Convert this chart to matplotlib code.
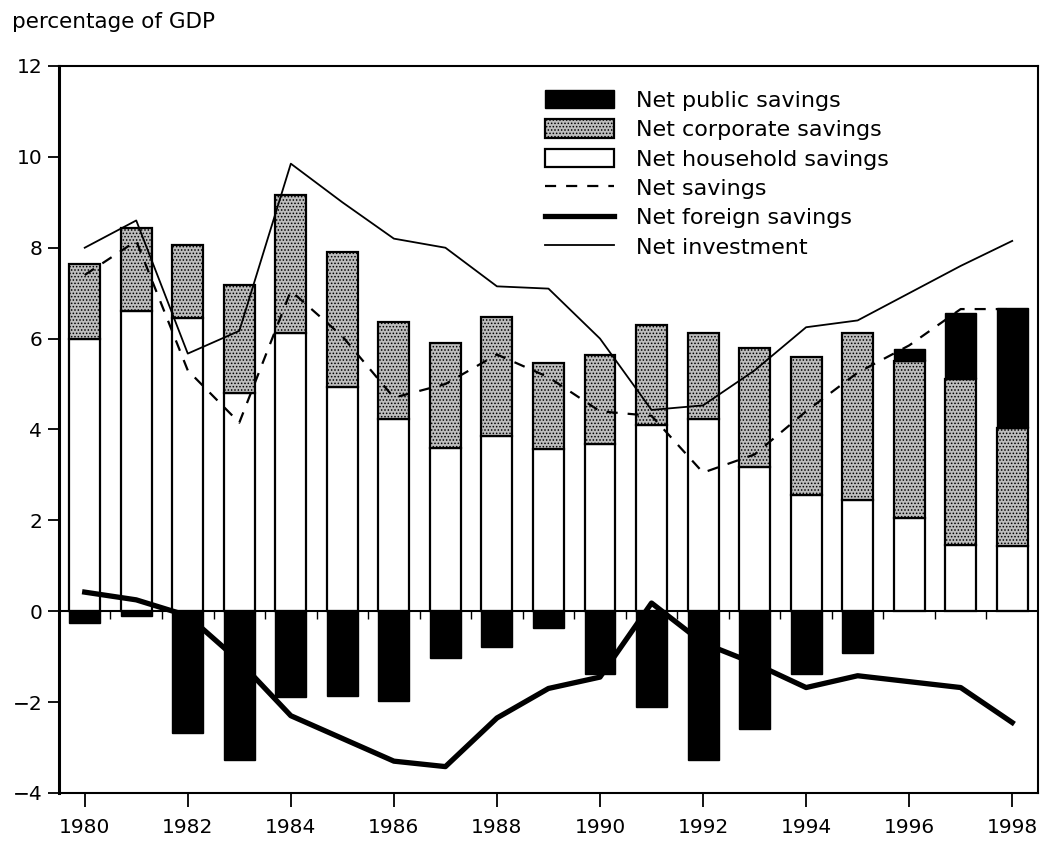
import numpy as np
import matplotlib.pyplot as plt
from matplotlib.patches import Patch
from matplotlib.lines import Line2D

plt.rcParams['font.family'] = ['DejaVu Sans']
plt.rcParams['hatch.linewidth'] = 0.7

years = np.arange(1980, 1999)

# stacked bars (percentage of GDP)
household = [6.0, 6.6, 6.45, 4.8, 6.13, 4.94, 4.24, 3.6, 3.85, 3.56,
             3.69, 4.1, 4.24, 3.18, 2.55, 2.45, 2.05, 1.45, 1.43]
corporate = [1.65, 1.83, 1.62, 2.39, 3.03, 2.96, 2.13, 2.31, 2.63, 1.91,
             1.94, 2.19, 1.89, 2.62, 3.05, 3.68, 3.45, 3.65, 2.61]
public = [-0.27, -0.1, -2.69, -3.27, -1.89, -1.86, -1.98, -1.04, -0.78, -0.38,
          -1.38, -2.11, -3.27, -2.6, -1.38, -0.93, 0.28, 1.47, 2.64]

# lines
net_savings = [7.4, 8.15, 5.3, 4.15, 7.05, 6.05, 4.7, 5.0, 5.65, 5.15,
               4.4, 4.3, 3.05, 3.45, 4.4, 5.25, 5.85, 6.65, 6.65]
net_foreign = [0.42, 0.25, -0.1, -1.1, -2.3, -2.8, -3.3, -3.42, -2.35, -1.7,
               -1.45, 0.18, -0.7, -1.15, -1.68, -1.42, -1.55, -1.68, -2.45]
net_investment = [8.0, 8.6, 5.67, 6.17, 9.85, 9.0, 8.2, 8.0, 7.15, 7.1,
                  6.0, 4.43, 4.53, 5.3, 6.25, 6.4, 7.0, 7.6, 8.15]

household = np.array(household)
corporate = np.array(corporate)
public = np.array(public)
pub_bottom = np.where(public > 0, household + corporate, 0)

corp_face = '#bdbdbd'
dash = (0, (5, 4.5))

fig = plt.figure(figsize=(10.49, 8.47), dpi=100)
ax = fig.add_axes([0.0562, 0.0638, 0.9333, 0.8583])

w = 0.6
ax.bar(years, household, width=w, color='white', edgecolor='black', lw=1.6, zorder=2)
ax.bar(years, corporate, bottom=household, width=w, facecolor=corp_face,
       edgecolor='black', hatch='.....', lw=1.6, zorder=2)
ax.bar(years, public, bottom=pub_bottom, width=w, color='black',
       edgecolor='black', lw=1.0, zorder=2)

ax.axhline(0, color='black', lw=1.5, zorder=2.5)
ax.vlines(years[:-1] + 0.5, -0.18, 0, color='black', lw=1.0, zorder=2.5)

ax.plot(years, net_savings, color='black', lw=1.6, ls=dash, zorder=3)
ax.plot(years, net_foreign, color='black', lw=3.8, zorder=3)
ax.plot(years, net_investment, color='black', lw=1.3, zorder=3)

ax.set_xlim(1979.5, 1998.5)
ax.set_ylim(-4, 12)
ax.set_xticks(years[::2])
ax.set_yticks(np.arange(-4, 13, 2))
ax.set_yticklabels(['\u22124', '\u22122', '0', '2', '4', '6', '8', '10', '12'])
ax.tick_params(axis='x', direction='out', length=10, width=1.3, pad=8, labelsize=14.5)
ax.tick_params(axis='y', direction='out', length=8, width=1.3, pad=4, labelsize=14.5)
for s in ax.spines.values():
    s.set_linewidth(1.5)
ax.spines['left'].set_linewidth(2.2)

fig.text(0.011, 1 - 22 / 847, 'percentage of GDP', fontsize=15.5, va='center', ha='left')

handles = [
    Patch(facecolor='black', edgecolor='black'),
    Patch(facecolor=corp_face, edgecolor='black', hatch='.....', lw=1.6),
    Patch(facecolor='white', edgecolor='black', lw=1.6),
    Line2D([], [], color='black', lw=1.6, ls=dash),
    Line2D([], [], color='black', lw=3.8),
    Line2D([], [], color='black', lw=1.3),
]
labels = ['Net public savings', 'Net corporate savings', 'Net household savings',
          'Net savings', 'Net foreign savings', 'Net investment']
ax.legend(handles, labels, loc='upper left', bbox_to_anchor=(545 / 1049, 1 - 90 / 847),
          bbox_transform=fig.transFigure, frameon=False, fontsize=16,
          handlelength=3.1, handleheight=0.9, handletextpad=1.0,
          labelspacing=0.38, borderpad=0, borderaxespad=0)

fig.savefig('out.png', dpi=100)
